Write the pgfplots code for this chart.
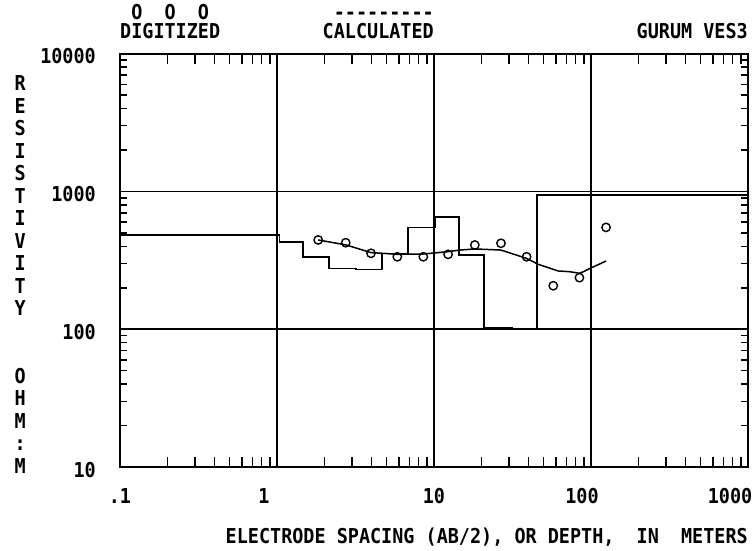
\documentclass[border=0pt]{standalone}
\usepackage{pgfplots}
\pgfplotsset{compat=1.18}
\usepackage{fontspec}
\newfontfamily\pixfont[FakeStretch=0.9]{DejaVu Sans Mono}
\newcommand\pf{\pixfont\bfseries\fontsize{20.5pt}{22.5pt}\selectfont\frenchspacing}
\begin{document}
\begin{tikzpicture}[x=1pt,y=1pt]
\useasboundingbox (0,0) rectangle (752,-551);
\begin{axis}[
  at={(120pt,-467.1pt)}, anchor=south west,
  width=628pt, height=413.4pt, scale only axis,
  xmode=log, ymode=log,
  xmin=0.1, xmax=1000, ymin=10, ymax=10000,
  xtick={0.1,1,10,100,1000},
  xticklabels={.1,{1\hspace*{26pt}},10,{100\hspace*{18pt}},{1000\hspace*{36pt}}},
  ytick={10,100,1000,10000},
  yticklabels={10,100,1000,10000},
  minor xtick={0.2,0.3,0.4,0.5,0.6,0.7,0.8,0.9,2,3,4,5,6,7,8,9,20,30,40,50,60,70,80,90,200,300,400,500,600,700,800,900},
  minor ytick={20,30,40,50,60,70,80,90,200,300,400,500,600,700,800,900,2000,3000,4000,5000,6000,7000,8000,9000},
  tick align=inside,
  major tick length=8pt, minor tick length=7.5pt,
  every minor x tick/.append style={/pgfplots/minor tick length=10pt},
  every tick/.style={black, line width=1.4pt},
  grid=major,
  major grid style={black, line width=1.7pt},
  axis line style={black, line width=1.9pt},
  xticklabel style={font=\pf, anchor=base, inner sep=0pt, yshift=-36.5pt},
  yticklabel style={font=\pf, anchor=base east, inner sep=0pt, xshift=-24pt, yshift=-10pt},
  xlabel={ELECTRODE SPACING (AB/2), OR DEPTH,~~IN~~METERS},
  xlabel style={font=\pf, at={(axis description cs:1,-0.1848)}, anchor=base east, inner sep=0pt},
  ylabel={\begin{tabular}{@{}c@{}}R\\E\\S\\I\\S\\T\\I\\V\\I\\T\\Y\\ \\ \\O\\H\\M\\:\\M\end{tabular}},
  ylabel style={font=\pf, rotate=-90, at={(axis description cs:-0.159,0.459)}, anchor=center, inner sep=0pt},
]
% layered model (step)
\addplot[const plot, black, line width=1.6pt] coordinates {
  (0.1,483) (1.04,432) (1.47,336) (2.14,277) (3.19,272) (4.66,356)
  (6.86,549) (10.2,656) (14.4,346) (20.8,101.7) (31.4,100) (45.3,944) (1000,944)
};
% calculated curve
\addplot[black, line width=1.5pt] coordinates {
  (1.83,445) (2.77,409) (3.97,360) (4.75,356) (5.8,350) (8.55,352)
  (12.3,366) (14.6,376) (18.2,383) (26.7,376) (38.9,327) (46.2,296)
  (61.9,265) (72.6,262) (85.1,255) (100.9,280) (124.7,313)
};
% digitized points
\addplot[only marks, mark=o, mark size=4.2pt, mark options={black, line width=1.4pt}] coordinates {
  (1.83,445) (2.74,425) (3.97,356) (5.84,336) (8.55,336) (12.3,350)
  (18.2,409) (26.7,421) (38.9,336) (57.5,207) (84.4,237) (124.7,549)
};
\end{axis}
\node[font=\pf, anchor=base west, inner sep=0pt] at (120,-19.5) {~O~~O~~O};
\node[font=\pf, anchor=base west, inner sep=0pt] at (120,-38.5) {DIGITIZED};
\node[font=\pf, anchor=base east, inner sep=0pt] at (434,-19.5) {-{}-{}-{}-{}-{}-{}-{}-{}-};
\node[font=\pf, anchor=base east, inner sep=0pt] at (434,-38.5) {CALCULATED};
\node[font=\pf, anchor=base east, inner sep=0pt] at (748,-38.5) {GURUM VES3};
\end{tikzpicture}
\end{document}
